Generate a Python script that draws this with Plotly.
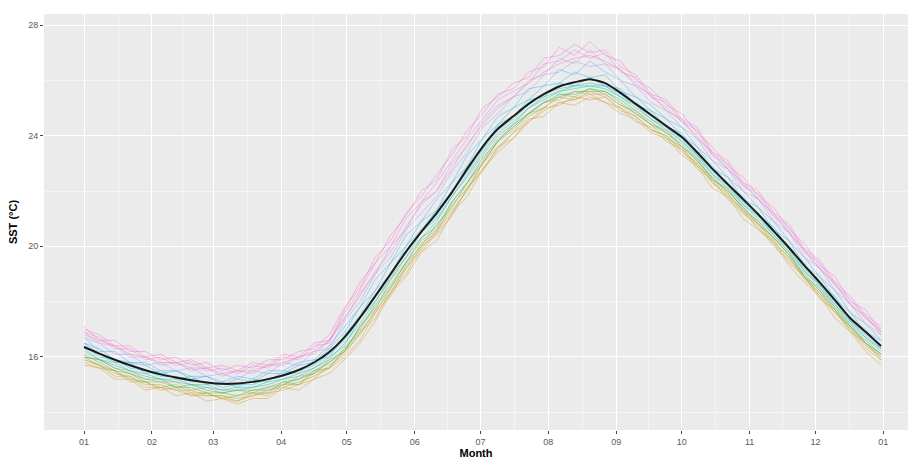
import plotly.graph_objects as go

# day of year for each weekly sample
days = [0, 7, 14, 21, 28, 35, 42, 49, 56, 63, 70, 77, 84, 91, 98, 105, 112, 119, 126,
        133, 140, 147, 154, 161, 168, 175, 182, 189, 196, 203, 210, 217, 224, 231, 238,
        245, 252, 259, 266, 273, 280, 287, 294, 301, 308, 315, 322, 329, 336, 343, 350,
        357, 364]

month_ticks = [0, 31, 59, 90, 120, 151, 181, 212, 243, 273, 304, 334, 365]
month_labels = ["01", "02", "03", "04", "05", "06", "07", "08", "09", "10", "11", "12", "01"]
mid_month = [15.5, 45, 74.5, 105, 135.5, 166, 196.5, 227.5, 258, 288.5, 319, 349.5]

climatology = [16.36, 16.12, 15.9, 15.7, 15.52, 15.37, 15.26, 15.16, 15.08, 15.03, 15.04, 15.1,
               15.2, 15.34, 15.53, 15.8, 16.18, 16.72, 17.42, 18.2, 19.0, 19.8, 20.52, 21.2,
               21.95, 22.8, 23.6, 24.25, 24.7, 25.15, 25.5, 25.78, 25.93, 26.04, 25.9, 25.55,
               25.15, 24.75, 24.35, 23.95, 23.4, 22.8, 22.25, 21.7, 21.15, 20.55, 19.95, 19.3,
               18.7, 18.05, 17.4, 16.9, 16.4]

sst_y00 = [16.0,15.9,15.6,15.5,15.2,15.1,15.1,14.8,14.9,14.7,14.8,14.7,14.9,15.0,15.3,15.4,15.9,
           16.2,17.1,17.7,18.8,19.4,20.2,20.6,21.6,22.3,23.1,23.9,24.3,
           24.8,25.2,25.3,25.6,25.5,25.5,25.1,24.9,
           24.4,24.2,23.6,23.2,22.4,22.1,21.3,20.9,20.3,19.8,18.9,18.5,17.8,17.2,16.5,16.1]
sst_y01 = [15.9,15.7,15.3,15.3,14.9,14.9,14.8,14.6,14.7,14.5,14.4,14.6,14.7,14.8,15.0,15.4,15.6,
           16.0,16.6,17.6,18.2,19.2,19.8,20.5,21.2,22.1,22.8,23.5,24.1,
           24.5,25.0,25.1,25.4,25.3,25.4,24.9,24.7,
           24.2,24.0,23.4,23.0,22.3,21.8,21.3,20.6,20.2,19.4,18.9,18.2,17.6,17.0,16.3,15.9]
sst_y02 = [15.7,15.6,15.2,15.2,14.8,14.9,14.6,14.7,14.4,14.5,14.3,14.5,14.5,14.9,14.8,15.2,15.4,
           15.9,16.5,17.3,18.3,18.9,19.8,20.2,21.2,21.8,22.8,23.4,23.9,
           24.6,24.7,25.2,25.1,25.4,25.2,24.8,24.6,
           24.1,23.9,23.3,22.9,22.1,21.8,21.0,20.6,20.1,19.3,18.7,18.2,17.4,16.9,16.2,15.7]
sst_y03 = [15.8,15.6,15.5,15.1,15.1,14.8,14.9,14.6,14.6,14.6,14.4,14.7,14.6,15.0,15.0,15.2,15.7,
           16.1,16.9,17.4,18.4,19.0,20.0,20.4,21.1,22.1,22.7,23.6,23.9,
           24.5,24.9,25.2,25.3,25.5,25.2,25.0,24.5,
           24.3,23.8,23.5,22.8,22.4,21.7,21.2,20.7,20.0,19.5,18.9,18.1,17.7,16.9,16.5,15.9]
sst_y04 = [15.9,15.7,15.4,15.3,15.0,15.0,14.8,14.8,14.6,14.6,14.5,14.6,14.8,14.9,15.1,15.3,15.6,
           16.2,16.8,17.7,18.3,19.3,19.9,20.6,21.3,22.0,23.0,23.6,24.1,
           24.7,25.0,25.4,25.3,25.6,25.4,25.0,24.7,
           24.2,24.0,23.5,23.0,22.3,21.9,21.2,20.8,20.1,19.6,18.8,18.3,17.6,17.1,16.4,16.0]
sst_y05 = [16.0,15.7,15.5,15.2,15.1,14.9,15.0,14.7,14.7,14.5,14.6,14.7,14.7,15.1,15.0,15.5,15.6,
           16.3,16.9,17.6,18.5,19.2,20.1,20.5,21.5,22.1,23.0,23.8,24.2,
           24.8,25.0,25.5,25.4,25.7,25.5,25.1,24.8,
           24.4,23.9,23.6,22.9,22.5,21.9,21.3,20.8,20.2,19.6,18.9,18.3,17.7,17.0,16.5,16.0]
sst_y06 = [16.1,15.8,15.5,15.4,15.1,15.1,14.9,14.9,14.7,14.7,14.6,14.8,14.8,15.0,15.2,15.4,15.8,
           16.2,17.1,17.8,18.5,19.4,20.0,20.8,21.4,22.3,23.0,23.8,24.3,
           24.8,25.2,25.4,25.6,25.6,25.6,25.2,24.8,
           24.4,24.1,23.6,23.1,22.4,22.0,21.4,20.8,20.3,19.7,18.9,18.4,17.7,17.1,16.5,16.1]
sst_y07 = [16.0,15.9,15.6,15.4,15.2,15.2,14.9,15.0,14.8,14.7,14.8,14.8,14.9,15.1,15.2,15.5,15.8,
           16.3,17.0,17.9,18.6,19.4,20.3,20.7,21.6,22.3,23.2,23.8,24.4,
           24.8,25.2,25.5,25.5,25.7,25.6,25.3,24.9,
           24.5,24.1,23.7,23.1,22.5,22.0,21.4,20.9,20.3,19.7,19.0,18.4,17.8,17.1,16.6,16.1]
sst_y08 = [16.2,15.9,15.7,15.5,15.3,15.2,15.1,15.0,14.9,14.8,14.8,14.9,15.0,15.2,15.3,15.6,15.9,
           16.5,17.2,18.0,18.8,19.6,20.3,20.9,21.8,22.5,23.3,24.0,24.4,
           25.0,25.3,25.6,25.7,25.8,25.7,25.4,25.0,
           24.6,24.2,23.8,23.2,22.6,22.1,21.5,21.0,20.4,19.8,19.1,18.5,17.9,17.2,16.7,16.2]
sst_y09 = [16.3,15.9,15.8,15.5,15.4,15.2,15.2,15.0,15.0,14.8,14.9,14.9,15.1,15.2,15.4,15.6,16.0,
           16.4,17.4,18.0,18.9,19.6,20.5,21.0,21.8,22.6,23.4,24.1,24.5,
           25.0,25.4,25.6,25.8,25.8,25.8,25.4,25.1,
           24.6,24.3,23.8,23.3,22.6,22.2,21.5,21.1,20.4,19.9,19.1,18.6,17.9,17.3,16.7,16.3]
sst_y10 = [16.4,16.0,15.9,15.6,15.5,15.3,15.3,15.1,15.1,14.9,15.0,15.0,15.2,15.3,15.5,15.7,16.1,
           16.6,17.4,18.2,19.0,19.8,20.5,21.1,22.0,22.7,23.5,24.2,24.6,
           25.1,25.5,25.7,25.8,25.9,25.8,25.5,25.1,
           24.7,24.3,23.9,23.3,22.7,22.2,21.6,21.1,20.5,19.9,19.2,18.6,18.0,17.3,16.8,16.3]
sst_y11 = [16.5,16.1,15.8,15.8,15.4,15.5,15.2,15.3,15.0,15.1,14.9,15.2,15.1,15.5,15.4,15.9,16.0,
           16.8,17.5,18.4,19.0,20.0,20.6,21.3,22.0,22.9,23.5,24.4,24.7,
           25.3,25.4,25.9,25.8,26.1,25.8,25.7,25.1,
           24.9,24.3,24.1,23.3,22.9,22.2,21.8,21.1,20.7,19.9,19.4,18.6,18.2,17.3,17.0,16.3]
sst_y12 = [16.5,16.3,15.9,15.8,15.7,15.4,15.5,15.2,15.3,15.0,15.2,15.1,15.4,15.4,15.7,15.8,16.3,
           16.9,17.8,18.4,19.4,20.0,20.9,21.3,22.3,22.9,23.9,24.4,25.0,
           25.3,25.8,25.9,26.3,26.1,26.2,25.6,25.4,
           24.9,24.6,24.0,23.6,22.8,22.5,21.7,21.4,20.6,20.2,19.3,18.9,18.1,17.6,16.9,16.6]
sst_y13 = [16.7,16.2,16.2,15.8,15.8,15.5,15.5,15.3,15.3,15.1,15.3,15.2,15.5,15.5,15.8,15.9,16.4,
           17.1,17.8,18.8,19.4,20.4,20.9,21.7,22.3,23.3,23.9,24.7,25.0,
           25.7,25.8,26.4,26.2,26.7,26.3,26.0,25.4,
           25.1,24.6,24.3,23.6,23.1,22.5,22.0,21.4,20.9,20.2,19.6,18.9,18.4,17.6,17.2,16.6]
sst_y14 = [16.7,16.5,16.1,16.1,15.7,15.8,15.5,15.6,15.3,15.4,15.2,15.5,15.4,15.8,15.7,16.2,16.3,
           17.3,18.0,19.0,19.6,20.6,21.2,21.8,22.7,23.4,24.3,24.8,25.4,
           25.6,26.2,26.3,26.7,26.5,26.6,26.0,25.8,
           25.2,24.9,24.3,23.9,23.1,22.8,22.0,21.7,20.9,20.5,19.6,19.2,18.4,17.9,17.2,16.8]
sst_y15 = [16.9,16.5,16.4,16.0,16.0,15.7,15.8,15.5,15.6,15.3,15.5,15.4,15.7,15.7,16.0,16.1,16.6,
           17.4,18.3,19.0,20.0,20.6,21.6,22.0,23.0,23.6,24.5,25.1,25.4,
           26.0,26.2,26.8,26.6,27.1,26.6,26.4,25.8,
           25.5,24.9,24.6,23.9,23.4,22.8,22.3,21.7,21.2,20.5,19.9,19.2,18.7,17.9,17.5,16.8]
sst_y16 = [16.9,16.7,16.3,16.3,15.9,16.0,15.7,15.8,15.5,15.6,15.4,15.7,15.6,16.0,15.9,16.4,16.5,
           17.6,18.4,19.4,20.0,21.0,21.6,22.3,23.1,23.9,24.6,25.3,25.6,
           25.9,26.6,26.7,27.1,26.8,27.0,26.3,26.1,
           25.4,25.2,24.5,24.2,23.3,23.0,22.2,21.9,21.1,20.7,19.8,19.4,18.6,18.1,17.4,17.0]
sst_y17 = [17.1,16.6,16.6,16.2,16.2,15.9,16.0,15.7,15.8,15.5,15.7,15.6,15.9,15.9,16.2,16.3,16.8,
           17.8,18.5,19.6,20.2,21.2,21.8,22.6,23.3,24.2,24.8,25.5,25.7,
           26.3,26.5,27.2,26.9,27.4,26.9,26.7,26.0,
           25.7,25.1,24.8,24.1,23.6,22.9,22.5,21.8,21.4,20.6,20.1,19.3,18.9,18.0,17.7,16.9]
sst_y18 = [17.0,16.8,16.4,16.4,16.0,16.1,15.8,15.9,15.6,15.7,15.5,15.8,15.7,16.1,16.0,16.5,16.6,
           17.7,18.7,19.4,20.4,21.1,22.0,22.4,23.5,24.0,25.0,25.4,25.9,
           26.1,26.8,26.9,27.3,27.0,27.1,26.5,26.2,
           25.5,25.3,24.6,24.3,23.4,23.1,22.3,22.0,21.2,20.8,19.9,19.5,18.7,18.2,17.5,17.1]
sst_y19 = [16.8,16.6,16.4,16.1,16.0,15.8,15.8,15.6,15.6,15.4,15.5,15.5,15.7,15.8,16.0,16.2,16.6,
           17.4,18.2,19.1,19.8,20.7,21.5,22.0,22.8,23.7,24.4,25.0,25.4,
           25.9,26.3,26.6,26.8,26.9,26.7,26.4,25.9,
           25.4,25.0,24.5,24.0,23.3,22.8,22.2,21.7,21.1,20.5,19.8,19.2,18.6,17.9,17.4,16.9]

yearly = [sst_y00, sst_y01, sst_y02, sst_y03, sst_y04, sst_y05, sst_y06, sst_y07, sst_y08, sst_y09,
          sst_y10, sst_y11, sst_y12, sst_y13, sst_y14, sst_y15, sst_y16, sst_y17, sst_y18, sst_y19]

palette = ["#F8766D", "#EA8331", "#D89000", "#C09B00", "#A3A500", "#7CAE00", "#39B600", "#00BB4E",
           "#00BF7D", "#00C1A3", "#00BFC4", "#00BAE0", "#00B0F6", "#35A2FF", "#9590FF", "#C77CFF",
           "#E76BF3", "#FA62DB", "#FF62BC", "#FF6C91"]

fig = go.Figure()
for vals, col in zip(yearly, palette):
    fig.add_trace(go.Scatter(x=days, y=vals, mode="lines", line=dict(color=col, width=1),
                             opacity=0.4, showlegend=False, hoverinfo="skip"))

fig.add_trace(go.Scatter(x=days, y=climatology, mode="lines", line_shape="spline",
                         line=dict(color="#1a1a1a", width=2, smoothing=0.6), showlegend=False))

tickfont = dict(family="Liberation Sans, Arial, sans-serif", size=9, color="#5a5a5a")
titlefont = dict(family="Liberation Sans, Arial, sans-serif", size=11, color="#000000")

fig.update_layout(
    width=908, height=464,
    margin=dict(l=44, r=0, t=14, b=34),
    paper_bgcolor="white", plot_bgcolor="#EBEBEB",
    xaxis=dict(range=[-18.3, 376.3], tickmode="array", tickvals=month_ticks, ticktext=month_labels,
               showgrid=True, gridcolor="white", gridwidth=1.1, zeroline=False,
               ticks="outside", ticklen=3, tickcolor="#444", tickfont=tickfont,
               minor=dict(tickvals=mid_month, showgrid=True, gridcolor="#F5F5F5", gridwidth=0.6, ticks=""),
               title=dict(text="<b>Month</b>", font=titlefont, standoff=2)),
    yaxis=dict(range=[13.36, 28.4], tickmode="array", tickvals=[16, 20, 24, 28],
               showgrid=True, gridcolor="white", gridwidth=1.1, zeroline=False,
               ticks="outside", ticklen=3, tickcolor="#444", tickfont=tickfont,
               minor=dict(tickvals=[14, 18, 22, 26], showgrid=True, gridcolor="#F5F5F5", gridwidth=0.6, ticks=""),
               title=dict(text="<b>SST (°C)</b>", font=titlefont, standoff=8)),
)

fig.write_html("out.html")
